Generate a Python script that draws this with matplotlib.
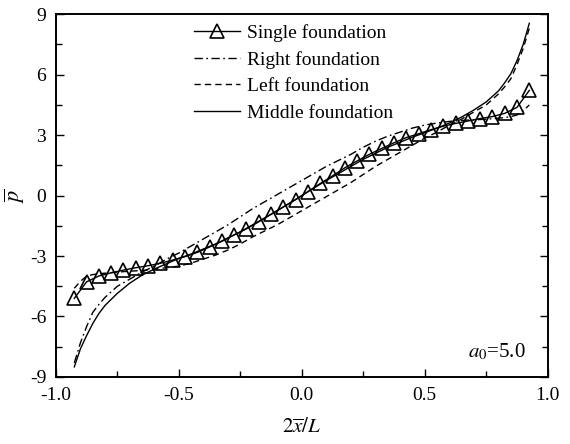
import numpy as np
import matplotlib
matplotlib.use("Agg")
import matplotlib.pyplot as plt
from matplotlib.ticker import MultipleLocator, FormatStrFormatter

plt.rcParams['font.family'] = ['Liberation Serif', 'DejaVu Serif']
plt.rcParams['mathtext.fontset'] = 'stix'
plt.rcParams['axes.unicode_minus'] = False

# single foundation (triangles)
x_single = [-0.925, -0.875, -0.825, -0.775, -0.725, -0.675, -0.625, -0.575, -0.525, -0.475,
            -0.425, -0.375, -0.325, -0.275, -0.225, -0.175, -0.125, -0.075, -0.025, 0.025,
            0.075, 0.125, 0.175, 0.225, 0.275, 0.325, 0.375, 0.425, 0.475, 0.525,
            0.575, 0.625, 0.675, 0.725, 0.775, 0.825, 0.875, 0.925]
p_single = [-5.10, -4.28, -3.99, -3.83, -3.70, -3.58, -3.48, -3.36, -3.20, -3.03,
            -2.82, -2.55, -2.27, -1.95, -1.65, -1.30, -0.93, -0.56, -0.20, 0.20,
            0.60, 0.98, 1.38, 1.72, 2.05, 2.34, 2.62, 2.88, 3.07, 3.27,
            3.44, 3.58, 3.70, 3.82, 3.92, 4.08, 4.38, 5.22]

x_curve = [-0.925, -0.9, -0.875, -0.85, -0.825, -0.8, -0.75, -0.7, -0.65, -0.6,
           -0.55, -0.5, -0.45, -0.4, -0.35, -0.3, -0.25, -0.2, -0.15, -0.1,
           -0.05, 0.0, 0.05, 0.1, 0.15, 0.2, 0.25, 0.3, 0.35, 0.4,
           0.45, 0.5, 0.55, 0.6, 0.65, 0.7, 0.75, 0.8, 0.825, 0.85,
           0.875, 0.9, 0.925]

p_right = [-8.3, -7.3, -6.5, -5.8, -5.4, -5.05, -4.5, -4.15, -3.8, -3.5,
           -3.15, -2.85, -2.5, -2.15, -1.8, -1.45, -1.05, -0.65, -0.3, 0.05,
           0.4, 0.75, 1.1, 1.45, 1.75, 2.05, 2.4, 2.7, 2.95, 3.15,
           3.35, 3.5, 3.6, 3.68, 3.73, 3.76, 3.79, 3.84, 3.87, 3.92,
           4.0, 4.2, 4.5]

p_left = [-4.6, -4.25, -4.0, -3.92, -3.88, -3.85, -3.8, -3.75, -3.72, -3.65,
          -3.58, -3.5, -3.35, -3.15, -2.95, -2.7, -2.4, -2.05, -1.75, -1.45,
          -1.1, -0.75, -0.4, -0.05, 0.3, 0.65, 1.05, 1.45, 1.8, 2.15,
          2.5, 2.85, 3.15, 3.5, 3.8, 4.15, 4.5, 5.05, 5.4, 5.8,
          6.5, 7.3, 8.3]

p_middle = [-8.5, -7.6, -6.95, -6.35, -5.85, -5.45, -4.85, -4.35, -3.95, -3.65,
            -3.38, -3.12, -2.9, -2.65, -2.4, -2.1, -1.8, -1.45, -1.1, -0.75,
            -0.38, 0.0, 0.38, 0.75, 1.1, 1.45, 1.8, 2.1, 2.4, 2.65,
            2.9, 3.12, 3.35, 3.6, 3.9, 4.25, 4.65, 5.2, 5.6, 6.05,
            6.7, 7.5, 8.55]

fig = plt.figure(figsize=(5.7, 4.44), dpi=100)
ax = fig.add_axes([0.098, 0.151, 0.863, 0.817])

ax.plot(x_single, p_single, color='black', lw=1.0, marker='^', markersize=9.5,
        markerfacecolor='none', markeredgewidth=1.2, label='Single foundation')
ax.plot(x_curve, p_right, color='black', lw=1.0, linestyle=(0, (6, 2.5, 1.2, 2.5)),
        label='Right foundation')
ax.plot(x_curve, p_left, color='black', lw=1.0, linestyle=(0, (4.5, 3)),
        label='Left foundation')
ax.plot(x_curve, p_middle, color='black', lw=1.0, label='Middle foundation')

ax.set_xlim(-1.0, 1.0)
ax.set_ylim(-9, 9)
ax.xaxis.set_major_locator(MultipleLocator(0.5))
ax.xaxis.set_minor_locator(MultipleLocator(0.25))
ax.yaxis.set_major_locator(MultipleLocator(3))
ax.yaxis.set_minor_locator(MultipleLocator(1.5))
ax.xaxis.set_major_formatter(FormatStrFormatter('%.1f'))
ax.tick_params(which='both', direction='in', top=False, right=True, labelsize=14,
               width=1.0)
ax.tick_params(which='major', length=6, pad=7)
ax.tick_params(which='minor', length=4)
for s in ax.spines.values():
    s.set_linewidth(1.4)

ax.set_xlabel(r'$2\overline{x}/L$', fontsize=15, labelpad=11)
ax.set_ylabel(r'$\overline{p}$', fontsize=16, labelpad=2)

ax.text(0.955, 0.068, r'$a_0$=5.0', transform=ax.transAxes, fontsize=15,
        ha='right', va='center')

ax.legend(loc='upper left', bbox_to_anchor=(0.28, 0.972), frameon=False,
          fontsize=14, handlelength=2.4, handletextpad=0.35, labelspacing=0.45,
          borderaxespad=0, borderpad=0)

fig.savefig('out.png', dpi=100)
